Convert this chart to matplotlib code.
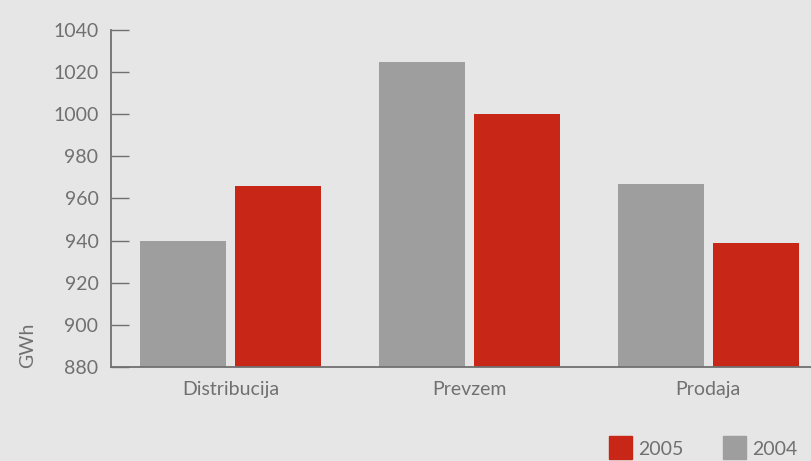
import numpy as np
import matplotlib.pyplot as plt
from matplotlib.patches import Rectangle

# data
categories = ["Distribucija", "Prevzem", "Prodaja"]
vals_2004 = [940, 1025, 967]
vals_2005 = [966, 1000, 939]
yticks = [880, 900, 920, 940, 960, 980, 1000, 1020, 1040]

bg = "#e6e6e6"
c_gray = "#9e9e9e"
c_red = "#c82617"
c_text = "#707070"
c_axis = "#707070"

plt.rcParams['font.family'] = ['Lato', 'DejaVu Sans']

fig = plt.figure(figsize=(8.12, 4.61), dpi=100, facecolor=bg)
ax = fig.add_axes([111/812, 94/461, 1 - 111/812, 337/461])
ax.set_facecolor(bg)

x = np.arange(len(categories))
w = 0.36
off = 0.199
ax.bar(x - off, vals_2004, w, color=c_gray)
ax.bar(x + off, vals_2005, w, color=c_red)

ax.set_ylim(880, 1040)
ax.set_xlim(-0.5, 2.435)
ax.set_yticks(yticks)
ax.set_yticklabels([str(t) for t in yticks])
ax.set_xticks(x)
ax.set_xticklabels(categories)

for s in ["top", "right"]:
    ax.spines[s].set_visible(False)
for s in ["left", "bottom"]:
    ax.spines[s].set_color(c_axis)
    ax.spines[s].set_linewidth(1.3)

ax.tick_params(axis="y", direction="in", length=13, width=1, color=c_axis,
               pad=9, labelsize=14, labelcolor=c_text)
ax.tick_params(axis="x", length=0, pad=10, labelsize=14, labelcolor=c_text)

fig.text(28/812, 93/461, "GWh", rotation=90, ha="center", va="bottom",
         fontsize=14, color=c_text)

# legend
for px, col, lab in [(609, c_red, "2005"), (723, c_gray, "2004")]:
    fig.patches.append(Rectangle((px/812, 2/461), 23/812, 23/461,
                                 transform=fig.transFigure, color=col))
    fig.text((px + 29)/812, 12/461, lab, ha="left", va="center",
             fontsize=14, color=c_text)

fig.savefig("out.png", dpi=100, facecolor=bg)
